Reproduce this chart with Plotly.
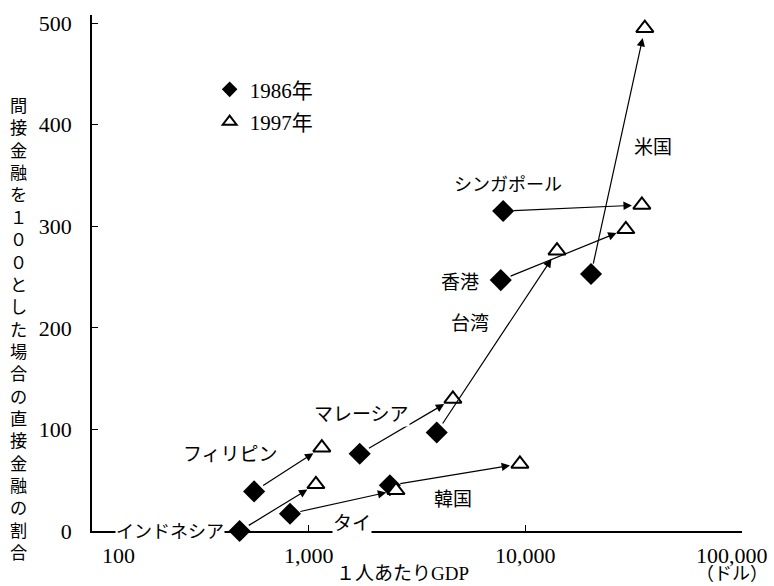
import numpy as np
import plotly.graph_objects as go

# 直接金融比率(間接金融=100)と1人あたりGDP、1986年→1997年
countries = ["インドネシア", "フィリピン", "タイ", "マレーシア", "韓国",
             "台湾", "香港", "シンガポール", "米国"]
gdp_1986 = [480, 560, 820, 1720, 2370, 3900, 7700, 7900, 20100]
ratio_1986 = [0, 39, 17, 76, 45, 97, 247, 315, 253]
gdp_1997 = [1080, 1150, 2530, 4630, 9440, 14000, 29100, 34500, 35600]
ratio_1997 = [46, 82, 40, 130, 66, 276, 297, 321, 495]

x_tickvals = [100, 1000, 10000, 100000]
x_ticktext = ["100", "1,000", "10,000", "100,000"]
y_tickvals = [0, 100, 200, 300, 400, 500]

# where each country name is written (axis coordinates)
label_xy = [(229, 1), (437, 77), (1585, 9), (1762, 117), (4634, 33),
            (5550, 206), (4990, 247), (8320, 343), (38800, 380)]

FONT = "Liberation Serif, Noto Sans CJK JP"
JP = "Noto Sans CJK JP, Liberation Serif"

fig = go.Figure()
fig.add_trace(go.Scatter(
    x=gdp_1986, y=ratio_1986, mode="markers", name="1986年",
    legendgroup="a", cliponaxis=False,
    marker=dict(symbol="diamond", size=17, color="black",
                line=dict(width=0)),
))
fig.add_trace(go.Scatter(
    x=gdp_1997, y=ratio_1997, mode="markers", name="1997年",
    legendgroup="b", cliponaxis=False,
    marker=dict(symbol="triangle-up", size=15, color="white",
                line=dict(width=2, color="black")),
))

annotations = []
# arrows 1986 -> 1997
for x0, y0, x1, y1 in zip(gdp_1986, ratio_1986, gdp_1997, ratio_1997):
    annotations.append(dict(
        x=np.log10(x1), y=y1, ax=np.log10(x0), ay=y0,
        xref="x", yref="y", axref="x", ayref="y",
        text="", showarrow=True, arrowhead=2, arrowsize=1.4,
        arrowwidth=1.2, arrowcolor="black", standoff=10, startstandoff=9,
    ))

# country names
for name, (lx, ly) in zip(countries, label_xy):
    annotations.append(dict(
        x=np.log10(lx), y=ly, xref="x", yref="y", text=name,
        showarrow=False, bgcolor="white", borderpad=0,
        font=dict(family=JP, size=18 if len(name) > 5 else 19,
                  color="black"),
    ))

# x tick labels
x_anchor = {"100": ("left", 8), "100,000": ("right", 28)}
for v, t in zip(x_tickvals, x_ticktext):
    anc, sh = x_anchor.get(t, ("center", 0))
    annotations.append(dict(
        x=np.log10(v), y=0, xref="x", yref="y", text=t, showarrow=False,
        xanchor=anc, xshift=sh, yanchor="middle", yshift=-24,
        font=dict(family=FONT, size=22, color="black"),
    ))

# axis titles
annotations.append(dict(
    x=0.478, y=0, xref="paper", yref="paper", text="１人あたりGDP",
    showarrow=False, yanchor="middle", yshift=-42,
    font=dict(family=FONT, size=19, color="black"),
))
annotations.append(dict(
    x=1, y=0, xref="paper", yref="paper", text="（ドル）",
    showarrow=False, xanchor="right", xshift=28, yanchor="middle", yshift=-43,
    font=dict(family=FONT, size=18, color="black"),
))
ytitle = "間接金融を１００とした場合の直接金融の割合"
annotations.append(dict(
    x=0, y=(531 - 326) / 520, xref="paper", yref="paper",
    text="<br>".join(ytitle), showarrow=False,
    xanchor="center", yanchor="middle", xshift=-74,
    font=dict(family=JP, size=17.2, color="black"),
))

fig.update_layout(
    width=774, height=586,
    margin=dict(l=92, r=32, t=11, b=55),
    paper_bgcolor="white", plot_bgcolor="white",
    font=dict(family=FONT, size=22, color="black"),
    showlegend=True,
    legend=dict(x=0.181, y=0.895, xanchor="left", yanchor="top",
                bgcolor="rgba(0,0,0,0)", traceorder="grouped",
                tracegroupgap=2, itemsizing="constant",
                font=dict(family=FONT, size=21, color="black")),
    annotations=annotations,
    xaxis=dict(type="log", range=[2, 5], tickvals=x_tickvals,
               showticklabels=False, ticks="inside", ticklen=6,
               tickcolor="black", showline=True, linecolor="black",
               linewidth=1.5, showgrid=False, zeroline=False),
    yaxis=dict(range=[0, 508], tickvals=y_tickvals, ticks="inside",
               ticklen=6, tickcolor="black", showline=True,
               linecolor="black", linewidth=1.5, showgrid=False,
               zeroline=False, ticklabelstandoff=14,
               tickfont=dict(family=FONT, size=22, color="black")),
)

fig.write_html("out.html")
